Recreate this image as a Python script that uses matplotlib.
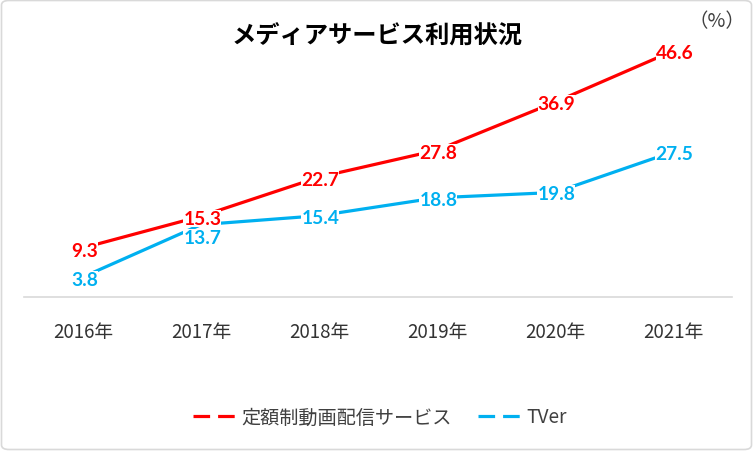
import matplotlib
matplotlib.use("Agg")
import matplotlib.pyplot as plt
from matplotlib.lines import Line2D
from matplotlib.patches import FancyBboxPatch

years = ["2016年", "2017年", "2018年", "2019年", "2020年", "2021年"]
svod = [9.3, 15.3, 22.7, 27.8, 36.9, 46.6]
tver = [3.8, 13.7, 15.4, 18.8, 19.8, 27.5]
series_names = ["定額制動画配信サービス", "TVer"]
title = "メディアサービス利用状況"
unit = "（%）"

plt.rcParams['font.family'] = ['Noto Sans CJK JP', 'DejaVu Sans']

RED = "#FF0000"
BLUE = "#00B0F0"

fig = plt.figure(figsize=(7.53, 4.52), dpi=100)
ax = fig.add_axes([24/753, 1-298/452, (732-24)/753, (298-34)/452])

x = list(range(len(years)))
ax.plot(x, svod, color=RED, lw=2.3, solid_capstyle='round', zorder=2)
ax.plot(x, tver, color=BLUE, lw=2.3, solid_capstyle='round', zorder=2)

ax.set_xlim(-0.5, len(years) - 0.5)
ax.set_ylim(0, 50)

# label offsets in points (style only)
red_off = [(1, -2), (1, -2), (1, -2), (1, -2), (1, -1), (1, -1)]
blue_off = [(1, -2), (1, -9), (1, -1), (1, -1), (1, -1), (1, -1)]

lab_font = dict(family=['Lato', 'DejaVu Sans'], fontsize=13.8, fontweight='bold')
for xi, v, off in zip(x, svod, red_off):
    ax.annotate(f"{v:.1f}", (xi, v), xytext=off, textcoords='offset points',
                ha='center', va='center', color=RED, zorder=5,
                bbox=dict(boxstyle='square,pad=0.0', fc='white', ec='none'),
                **lab_font)
for xi, v, off in zip(x, tver, blue_off):
    ax.annotate(f"{v:.1f}", (xi, v), xytext=off, textcoords='offset points',
                ha='center', va='center', color=BLUE, zorder=4,
                bbox=dict(boxstyle='square,pad=0.0', fc='white', ec='none'),
                **lab_font)

for s in ['top', 'right', 'left']:
    ax.spines[s].set_visible(False)
ax.spines['bottom'].set_color('#d9d9d9')
ax.spines['bottom'].set_linewidth(1.2)
ax.set_yticks([])
ax.set_xticks(x)
ax.set_xticklabels(years, fontsize=13.5, color='#333333')
ax.tick_params(axis='x', length=0, pad=17)

fig.text(377/753, 1-37/452, title, ha='center', va='center', fontsize=17.5,
         fontweight='bold', color='black')
fig.text(717/753, 1-22/452, unit, ha='center', va='center', fontsize=14,
         color='#404040')

handles = [Line2D([], [], color=RED, lw=2.3, linestyle=(0, (5.2, 2.5))),
           Line2D([], [], color=BLUE, lw=2.3, linestyle=(0, (5.2, 2.5)))]
fig.legend(handles, series_names, loc='center', bbox_to_anchor=(380/753, 1-418/452),
           ncol=2, frameon=False, fontsize=13.8, handlelength=2.2,
           handletextpad=0.3, columnspacing=1.4, labelcolor='#404040')

border = FancyBboxPatch((1.5/753, 1.5/452), 1-3/753, 1-3/452,
                        boxstyle='round,pad=0,rounding_size=0.01',
                        transform=fig.transFigure, fc='none', ec='#d9d9d9', lw=1.2)
fig.patches.append(border)

fig.savefig("out.png", dpi=100)
